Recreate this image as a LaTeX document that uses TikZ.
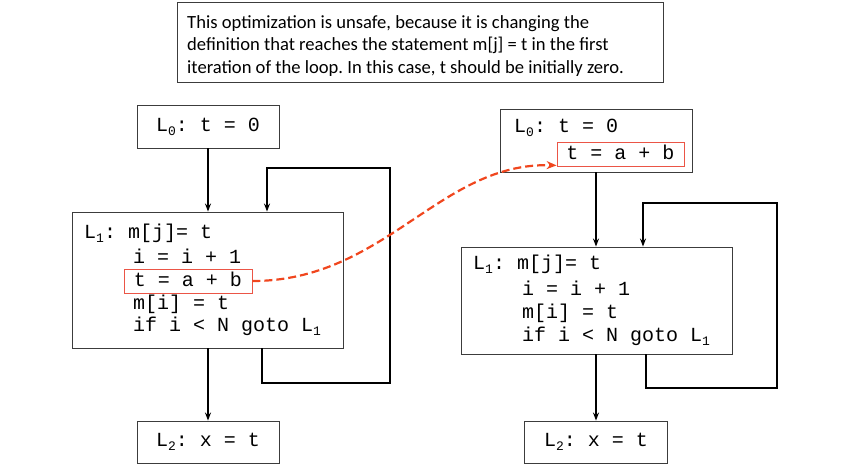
\documentclass[tikz,border=0pt]{standalone}
\usepackage{fontspec}
\setmainfont{Carlito}
\newfontfamily\codefont{Liberation Mono}
\usetikzlibrary{arrows.meta}
\definecolor{boxgray}{RGB}{60,60,60}
\definecolor{hotred}{RGB}{240,70,30}
\definecolor{hotbox}{RGB}{235,85,70}
\newcommand{\lab}[1]{L\raisebox{-4pt}{\codefont\fontsize{13}{13}\selectfont #1}}
\frenchspacing

\begin{document}
\begin{tikzpicture}[x=1pt,y=-1pt]
\useasboundingbox (0,0) rectangle (846,474);

% remark on top
\node (note) at (420,42.5) [draw=boxgray, line width=0.9pt, minimum width=486pt, minimum height=80pt] {};
\begin{scope}[every node/.style={anchor=base west, inner sep=0pt, font=\fontsize{18.6}{22}\selectfont}]
    \node (noteA) at (187,28.3) {This optimization is unsafe, because it is changing the};
    \node (noteB) at (187,50.8) {definition that reaches the statement m[j] = t in the first};
    \node (noteC) at (187,73.3) {iteration of the loop. In this case, t should be initially zero.};
\end{scope}

\begin{scope}[every node/.style={draw=boxgray, line width=0.9pt, inner sep=0pt, font=\codefont\fontsize{20}{22}\selectfont}]
    % original code
    \node (entryL) at (208,126.5) [minimum width=142pt, minimum height=43pt] {\lab{0}: t = 0};
    \node (bodyL) at (207.5,280) [minimum width=271pt, minimum height=136pt] {};
    \node (exitL) at (208,442) [minimum width=142pt, minimum height=42pt] {\lab{2}: x = t};

    % hoisted code
    \node (entryR) at (596,140.5) [minimum width=192pt, minimum height=63pt] {};
    \node (bodyR) at (596.5,300.5) [minimum width=271pt, minimum height=107pt] {};
    \node (exitR) at (596,442) [minimum width=143pt, minimum height=42pt] {\lab{2}: x = t};

    \node (movedL) at (188,281) [draw=hotbox, line width=0.8pt, minimum width=128pt, text height=14pt, text depth=4pt, inner ysep=3pt] {t = a + b};
    \node (movedR) at (620.5,154) [draw=hotbox, line width=0.8pt, minimum width=127pt, text height=14pt, text depth=4pt, inner ysep=3pt] {t = a + b};
\end{scope}

\begin{scope}[every node/.style={anchor=base west, inner sep=0pt, font=\codefont\fontsize{20}{22}\selectfont}]
    \node (bodyL1) at (84,238) {\lab{1}: m[j]= t};
    \node (bodyL2) at (133,263) {i = i + 1};
    \node (bodyL4) at (133,309) {m[i] = t};
    \node (bodyL5) at (133,331) {if i < N goto \lab{1}};

    \node (entryR1) at (514,132) {\lab{0}: t = 0};
    \node (bodyR1) at (473,269) {\lab{1}: m[j]= t};
    \node (bodyR2) at (522,295) {i = i + 1};
    \node (bodyR3) at (522,318) {m[i] = t};
    \node (bodyR4) at (522,341) {if i < N goto \lab{1}};
\end{scope}

\coordinate (outL) at (262,383);
\coordinate (backL) at (390,168);
\coordinate (inL) at (267,212);
\coordinate (outR) at (646,388);
\coordinate (backR) at (777,203);
\coordinate (inR) at (643,247);

\begin{scope}[>={Stealth[length=8pt, width=6pt]}, flow/.style={draw=black, line width=2pt}]
    \draw [flow, ->] (entryL |- entryL.south) -- (entryL |- bodyL.north);
    \draw [flow, ->] (outL |- bodyL.south) -- (outL) -| (backL) -| (inL |- bodyL.north);
    \draw [flow, ->] (entryL |- bodyL.south) -- (exitL.north);

    \draw [flow, ->] (entryR.south) -- (entryR |- bodyR.north);
    \draw [flow, ->] (outR |- bodyR.south) -- (outR) -| (backR) -| (inR |- bodyR.north);
    \draw [flow, ->] (entryR |- bodyR.south) -- (exitR.north);
\end{scope}

\draw [-{Stealth[length=10pt, width=8pt]}, draw=hotred, line width=2.2pt, dash pattern=on 8pt off 4pt]
    (movedL.east) .. controls (385,281) and (440,162) .. ([yshift=1pt]movedR.south west);
\end{tikzpicture}
\end{document}
